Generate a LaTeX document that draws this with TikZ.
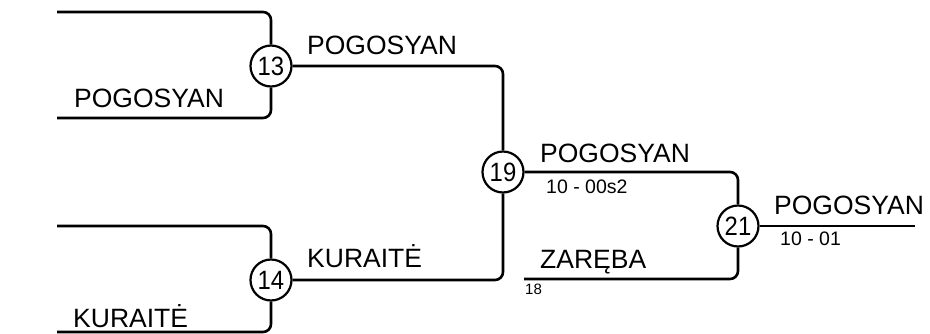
\documentclass[tikz,border=0pt]{standalone}
\usepackage{fontspec}
\setmainfont{Liberation Sans}
\tikzset{
    match/.style={circle, draw, line width=2.2pt, minimum size=41pt, inner sep=0pt,
                  font=\fontsize{26.5}{26}\selectfont},
    branch/.style={line width=2.6pt, rounded corners=8pt},
    player/.style={anchor=base west, inner sep=0pt, font=\fontsize{26.5}{27}\selectfont},
    score/.style={anchor=base west, inner sep=0pt, font=\fontsize{19.5}{19}\selectfont},
    seed/.style={anchor=base west, inner sep=0pt, font=\fontsize{15}{15}\selectfont}
}
\begin{document}
\begin{tikzpicture}[x=1pt, y=-1pt]
    \useasboundingbox (0,0) rectangle (930,333);
    % Matches
    \node[match] (m13) at (271,66) {\scalebox{0.9}[1]{13}};
    \node[match] (m14) at (271,280) {\scalebox{0.9}[1]{14}};
    \node[match] (m19) at (503,172) {\scalebox{0.9}[1]{19}};
    \node[match] (m21) at (738,226) {\scalebox{0.9}[1]{21}};
    % Free ends
    \coordinate (t1) at (57,12);
    \coordinate (t2) at (57,118);
    \coordinate (t3) at (57,226);
    \coordinate (t4) at (57,332);
    \coordinate (t5) at (524,279);
    \coordinate (win) at (915,226);
    % Brackets
    \draw[branch] (t1) -| (m13);
    \draw[branch] (t2) -| (m13);
    \draw[branch] (t3) -| (m14);
    \draw[branch] (t4) -| (m14);
    \draw[branch] (m13) -| (m19);
    \draw[branch] (m14) -| (m19);
    \draw[branch] (m19) -| (m21);
    \draw[branch] (t5) -| (m21);
    \draw[branch] (m21) -- (win);
    % Names and scores
    \node[player] (n1) at (74,107) {POGOSYAN};
    \node[player] (n2) at (73,327) {KURAITĖ};
    \node[player] (n3) at (307,54) {POGOSYAN};
    \node[player] (n4) at (307,267) {KURAITĖ};
    \node[player] (n5) at (540,162) {POGOSYAN};
    \node[score] (s5) at (546,193) {10 - 00s2};
    \node[player] (n6) at (540,268) {ZARĘBA};
    \node[seed] (d6) at (525,294) {18};
    \node[player] (n7) at (774,214) {POGOSYAN};
    \node[score] (s7) at (780,245) {10 - 01};
\end{tikzpicture}
\end{document}
